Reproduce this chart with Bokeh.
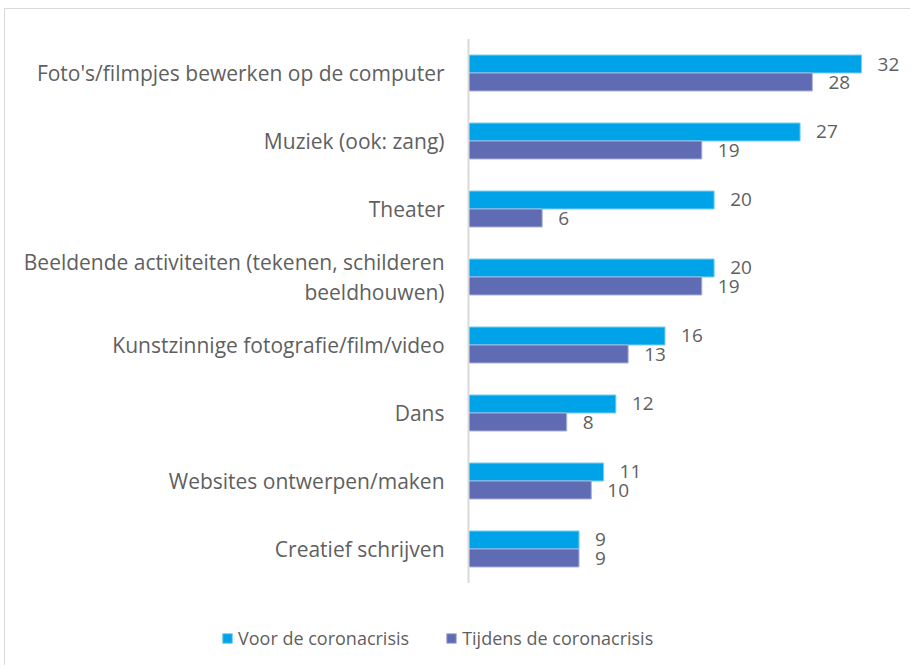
from bokeh.plotting import figure
from bokeh.models import ColumnDataSource, Range1d, Legend, LegendItem
from bokeh.transform import dodge
from bokeh.core.properties import value
from bokeh.embed import file_html
from bokeh.resources import INLINE

categories = [
    "Foto's/filmpjes bewerken op de computer",
    "Muziek (ook: zang)",
    "Theater",
    "Beeldende activiteiten (tekenen, schilderen\nbeeldhouwen)",
    "Kunstzinnige fotografie/film/video",
    "Dans",
    "Websites ontwerpen/maken",
    "Creatief schrijven",
]
voor = [32, 27, 20, 20, 16, 12, 11, 9]
tijdens = [28, 19, 6, 19, 13, 8, 10, 9]
series_names = ["Voor de coronacrisis", "Tijdens de coronacrisis"]

BLUE = "#00A2E8"
PURPLE = "#5F6BB3"
TXT = "#5f5f5f"
FONT = "Open Sans"
FS = "21px"
FS_VAL = "19px"
FS_LEG = "18px"

n = len(categories)
pos = [n - 1 - i for i in range(n)]  # top-to-bottom order on a numeric scale

src = ColumnDataSource(dict(
    pos=pos, cat=categories, voor=voor, tijdens=tijdens,
    zero=[0] * n,
    voor_lbl=[str(v) for v in voor], tijdens_lbl=[str(v) for v in tijdens],
))

W, H = 906, 657
p = figure(
    width=W, height=H, output_backend="svg", toolbar_location=None,
    x_range=Range1d(-37.70, 36.07), y_range=Range1d(-1.728, 7.934),
    x_axis_location=None, y_axis_location=None,
    min_border=0,
)
p.styles = {"border-top": "1px solid #d9d9d9", "border-left": "1px solid #d9d9d9",
            "margin-left": "4px", "margin-top": "8px"}
p.xgrid.visible = False
p.ygrid.visible = False
p.outline_line_color = None

bh = 0.265
r1 = p.hbar(y=dodge("pos", bh / 2), right="voor", height=bh, left=0,
            source=src, fill_color=BLUE, line_color="#7fd0f3", line_width=1)
r2 = p.hbar(y=dodge("pos", -bh / 2), right="tijdens", height=bh, left=0,
            source=src, fill_color=PURPLE, line_color="#aeb4dc", line_width=1)

# vertical category axis line
p.segment(x0=0, x1=0, y0=min(pos) - 0.5, y1=max(pos) + 0.5,
          line_color="#d9d9d9", line_width=2)

# category labels
p.text(x="zero", y="pos", text="cat", source=src, x_offset=-24,
       text_baseline="middle", text_align="right", text_line_height=1.05,
       text_font=value(FONT), text_font_size=FS, text_color=TXT)

# value labels
p.text(x="voor", y=dodge("pos", bh / 2), text="voor_lbl", source=src,
       x_offset=16, text_baseline="middle", text_align="left",
       text_font=value(FONT), text_font_size=FS_VAL, text_color=TXT)
p.text(x="tijdens", y=dodge("pos", -bh / 2), text="tijdens_lbl", source=src,
       x_offset=16, text_baseline="middle", text_align="left",
       text_font=value(FONT), text_font_size=FS_VAL, text_color=TXT)

legend = Legend(
    items=[LegendItem(label=series_names[0], renderers=[r1]),
           LegendItem(label=series_names[1], renderers=[r2])],
    orientation="horizontal", location=(216, 16),
    border_line_color=None, background_fill_alpha=0,
    padding=0, margin=0, spacing=36,
    glyph_width=12, glyph_height=12, label_standoff=5,
    label_text_font=FONT, label_text_font_size=FS_LEG, label_text_color=TXT,
)
p.add_layout(legend, "center")

open("out.html", "w").write(file_html(p, INLINE))
